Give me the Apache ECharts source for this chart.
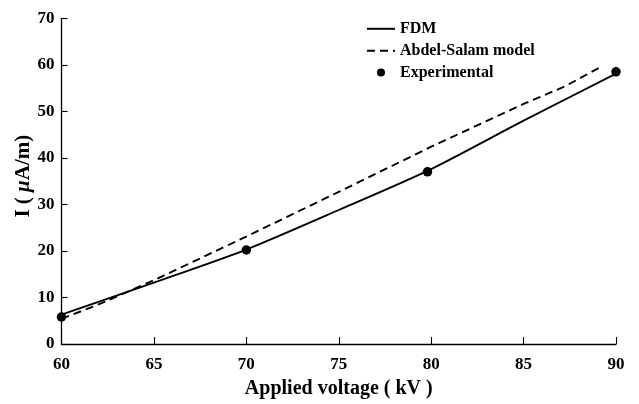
<!DOCTYPE html>
<html>
<head>
<meta charset="utf-8">
<script src="https://cdn.jsdelivr.net/npm/echarts@6/dist/echarts.min.js"></script>
<style>
  html, body { margin: 0; padding: 0; background: #fff; }
  #chart { width: 639px; height: 404px; }
</style>
</head>
<body>
<div id="chart"></div>
<script>
// Corona current vs. applied voltage
const fdmVoltage = [60, 65, 70, 75, 80, 85, 90];
const fdmCurrent = [6.3, 13.2, 20.3, 28.8, 37.6, 48.0, 58.1];

const abdelVoltage = [60, 62, 65, 70, 75, 80, 85, 87.2, 89.2];
const abdelCurrent = [5.4, 8.5, 13.7, 23.1, 32.7, 42.4, 51.6, 55.3, 59.6];

const expVoltage = [60, 70, 79.8, 90];
const expCurrent = [5.8, 20.2, 37.0, 58.5];

const xTicks = { min: 60, max: 90, interval: 5 };
const yTicks = { min: 0, max: 70, interval: 10 };

const pairs = (xs, ys) => xs.map((x, i) => [x, ys[i]]);

const FONT = 'Liberation Serif';
const INK = '#000';

const chart = echarts.init(document.getElementById('chart'), null, { renderer: 'canvas' });

chart.setOption({
  backgroundColor: '#fff',
  animation: false,
  grid: { left: 61.5, right: 23, top: 18.3, bottom: 60, containLabel: false },
  legend: {
    orient: 'vertical',
    left: 361,
    top: 15.8,
    itemWidth: 28,
    itemHeight: 8,
    itemGap: 5.9,
    textStyle: { fontFamily: FONT, fontWeight: 'bold', fontSize: 16, color: INK },
    data: [
      // line keys: hide the marker the line legend draws in its middle
      { name: 'FDM', itemStyle: { opacity: 0 } },
      { name: 'Abdel-Salam model', itemStyle: { opacity: 0 } },
      { name: 'Experimental', icon: 'circle' }
    ]
  },
  xAxis: {
    type: 'value',
    min: xTicks.min, max: xTicks.max, interval: xTicks.interval,
    name: 'Applied voltage ( kV )',
    nameLocation: 'middle',
    nameGap: 35,
    nameMoveOverlap: false,
    nameTextStyle: { fontFamily: FONT, fontWeight: 'bold', fontSize: 20, color: INK },
    axisLine: { show: true, lineStyle: { color: INK, width: 1.3 } },
    axisTick: { show: true, inside: true, length: 7, lineStyle: { color: INK, width: 1.1 } },
    axisLabel: { fontFamily: FONT, fontWeight: 'bold', fontSize: 17, color: INK, margin: 12 },
    splitLine: { show: false }
  },
  yAxis: {
    type: 'value',
    min: yTicks.min, max: yTicks.max, interval: yTicks.interval,
    name: '{a|I ( }{b|μ}{a|A/m)}',
    nameLocation: 'middle',
    nameGap: 27,
    nameMoveOverlap: false,
    nameTextStyle: {
      padding: [0, 0, 0, 10],
      rich: {
        a: { fontFamily: FONT, fontWeight: 'bold', fontSize: 21, color: INK },
        b: { fontFamily: FONT, fontWeight: 'bold', fontStyle: 'italic', fontSize: 21, color: INK }
      }
    },
    axisLine: { show: true, lineStyle: { color: INK, width: 1.3 } },
    axisTick: { show: true, inside: true, length: 6, lineStyle: { color: INK, width: 1.1 } },
    axisLabel: { fontFamily: FONT, fontWeight: 'bold', fontSize: 17, color: INK, margin: 7 },
    splitLine: { show: false }
  },
  series: [
    {
      name: 'FDM',
      type: 'line',
      data: pairs(fdmVoltage, fdmCurrent),
      smooth: 0.25,
      showSymbol: false,
      symbol: 'none',
      lineStyle: { color: INK, width: 1.9, type: 'solid' },
      itemStyle: { color: INK },
      z: 3
    },
    {
      name: 'Abdel-Salam model',
      type: 'line',
      data: pairs(abdelVoltage, abdelCurrent),
      showSymbol: false,
      symbol: 'none',
      lineStyle: { color: INK, width: 1.9, type: [8, 5] },
      itemStyle: { color: INK },
      z: 2
    },
    {
      name: 'Experimental',
      type: 'scatter',
      data: pairs(expVoltage, expCurrent),
      symbol: 'circle',
      symbolSize: 9.5,
      itemStyle: { color: INK, opacity: 1 },
      z: 4
    }
  ]
});
</script>
</body>
</html>
